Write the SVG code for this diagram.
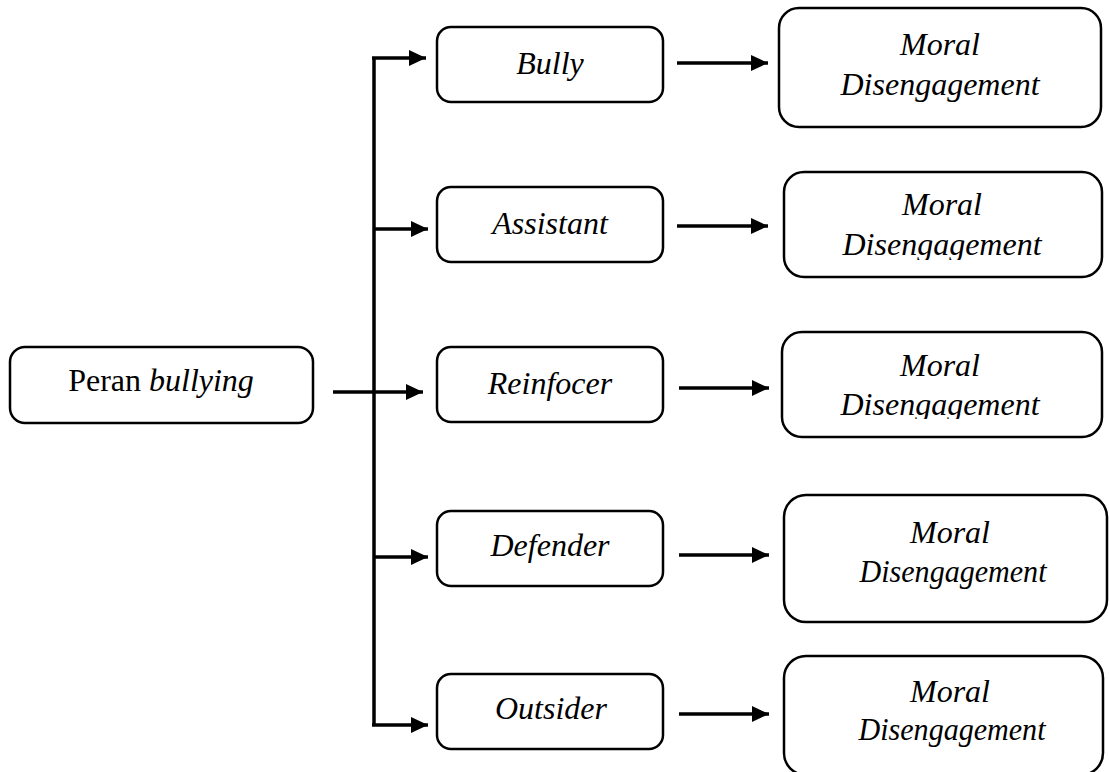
<svg xmlns="http://www.w3.org/2000/svg" width="1109" height="772" viewBox="0 0 1109 772">
  <style>
    .box { fill: #ffffff; stroke: #000000; stroke-width: 2.5; }
    .t { font-family: "Liberation Serif", "Times New Roman", serif; font-size: 32px; fill: #000000; text-anchor: middle; }
    .i { font-style: italic; }
    .c { fill: none; stroke: #000000; stroke-width: 3.5; }
  </style>
  <defs>
    <marker id="arrow" markerUnits="userSpaceOnUse" markerWidth="17" markerHeight="16" refX="17" refY="8" orient="auto">
      <path d="M0,0 L17,8 L0,16 z" fill="#000000"/>
    </marker>
    <clipPath id="clip2"><rect x="780" y="170" width="330" height="90"/></clipPath>
    <clipPath id="clip3"><rect x="780" y="330" width="330" height="89"/></clipPath>
  </defs>
  <rect width="1109" height="772" fill="#ffffff"/>

  <g id="connectors">
    <path class="c" d="M374,58 L374,725"/>
    <path class="c" d="M372,58 L426,58" marker-end="url(#arrow)"/>
    <path class="c" d="M374,229 L428,229" marker-end="url(#arrow)"/>
    <path class="c" d="M333,392 L423,392" marker-end="url(#arrow)"/>
    <path class="c" d="M374,557 L428,557" marker-end="url(#arrow)"/>
    <path class="c" d="M372,725 L428,725" marker-end="url(#arrow)"/>
    <path class="c" d="M677,63 L768,63" marker-end="url(#arrow)"/>
    <path class="c" d="M677,226 L768,226" marker-end="url(#arrow)"/>
    <path class="c" d="M679,388 L769,388" marker-end="url(#arrow)"/>
    <path class="c" d="M679,555 L769,555" marker-end="url(#arrow)"/>
    <path class="c" d="M679,714 L769,714" marker-end="url(#arrow)"/>
  </g>

  <g id="peran">
    <rect class="box" x="10" y="347" width="303" height="76" rx="15"/>
    <text class="t" x="161" y="391">Peran <tspan class="i">bullying</tspan></text>
  </g>

  <g id="bully">
    <rect class="box" x="437" y="27" width="226" height="75" rx="14"/>
    <text class="t i" x="550" y="74">Bully</text>
  </g>
  <g id="assistant">
    <rect class="box" x="437" y="187" width="226" height="75" rx="14"/>
    <text class="t i" x="550" y="234">Assistant</text>
  </g>
  <g id="reinforcer">
    <rect class="box" x="437" y="347" width="226" height="75" rx="14"/>
    <text class="t i" x="550" y="394">Reinfocer</text>
  </g>
  <g id="defender">
    <rect class="box" x="437" y="511" width="226" height="75" rx="14"/>
    <text class="t i" x="550" y="556">Defender</text>
  </g>
  <g id="outsider">
    <rect class="box" x="437" y="674" width="226" height="75" rx="14"/>
    <text class="t i" x="551" y="719">Outsider</text>
  </g>

  <g id="md1">
    <rect class="box" x="779" y="8" width="322" height="119" rx="20"/>
    <text class="t i" x="940" y="55">Moral</text>
    <text class="t i" x="940" y="95">Disengagement</text>
  </g>
  <g id="md2">
    <rect class="box" x="784" y="172" width="318" height="105" rx="20"/>
    <text class="t i" x="942" y="215">Moral</text>
    <text class="t i" x="942" y="255" clip-path="url(#clip2)">Disengagement</text>
  </g>
  <g id="md3">
    <rect class="box" x="782" y="332" width="320" height="105" rx="20"/>
    <text class="t i" x="940" y="376">Moral</text>
    <text class="t i" x="940" y="415" clip-path="url(#clip3)">Disengagement</text>
  </g>
  <g id="md4">
    <rect class="box" x="784" y="495" width="323" height="127" rx="22"/>
    <text class="t i" x="950" y="543">Moral</text>
    <text class="t i" x="953" y="582" textLength="187" lengthAdjust="spacingAndGlyphs">Disengagement</text>
  </g>
  <g id="md5">
    <rect class="box" x="784" y="656" width="319" height="119" rx="22"/>
    <text class="t i" x="950" y="702">Moral</text>
    <text class="t i" x="952" y="740" textLength="187" lengthAdjust="spacingAndGlyphs">Disengagement</text>
  </g>
</svg>
